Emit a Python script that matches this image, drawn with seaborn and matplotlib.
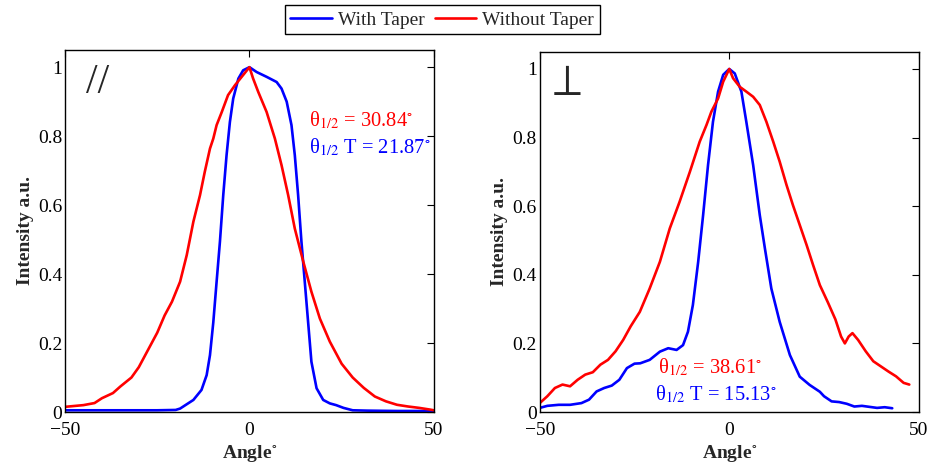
import matplotlib
matplotlib.use('Agg')
import matplotlib.pyplot as plt
import numpy as np
import pandas as pd
import seaborn as sns

# parallel (//) polarisation
par_angle_taper = [-50, -40, -30, -25, -20, -18.8, -15.2, -13.0, -11.6, -10.7, -9.8, -8.9, -8.0, -7.1, -6.2,
                   -5.3, -4.4, -3.0, -1.7, 0, 1.95, 4.66, 7.37, 8.7, 10.1, 11.4, 12.3, 13.2, 14.1, 15.0, 15.9,
                   16.8, 18.2, 20.0, 21.8, 23.5, 25.5, 28, 32, 40, 50]
par_taper = [0.005, 0.005, 0.005, 0.005, 0.006, 0.01, 0.035, 0.064, 0.107, 0.165, 0.26, 0.378, 0.494, 0.629,
             0.745, 0.841, 0.909, 0.967, 0.991, 1.0, 0.986, 0.972, 0.957, 0.938, 0.90, 0.832, 0.745, 0.629,
             0.494, 0.378, 0.262, 0.146, 0.069, 0.035, 0.025, 0.02, 0.012, 0.005, 0.004, 0.003, 0.003]
par_angle_plain = [-50, -45, -42, -40, -37, -35, -32, -30, -28, -25, -23, -21, -18.8, -17, -15.2, -13.4, -12.1,
                   -10.7, -9.8, -8.9, -7.5, -5.8, -3.9, -2.1, 0, 1.0, 2.4, 4.66, 6.9, 8.7, 10.5, 12.3, 14.6,
                   16.8, 19.1, 21.8, 23.5, 25, 28, 31, 34, 37, 40, 43, 46, 49, 50]
par_plain = [0.015, 0.02, 0.026, 0.04, 0.055, 0.074, 0.10, 0.13, 0.17, 0.23, 0.28, 0.32, 0.378, 0.455, 0.552,
             0.629, 0.697, 0.764, 0.793, 0.832, 0.87, 0.919, 0.948, 0.972, 1.0, 0.967, 0.928, 0.87, 0.793,
             0.716, 0.629, 0.532, 0.436, 0.349, 0.271, 0.204, 0.17, 0.14, 0.10, 0.07, 0.045, 0.031, 0.021,
             0.016, 0.012, 0.007, 0.005]

# perpendicular polarisation
perp_angle_taper = [-50, -48, -45, -42, -39, -37, -35, -33, -31, -29, -27, -25, -23.5, -21.0, -18.3, -16.1,
                    -13.9, -12.2, -10.9, -9.6, -8.2, -6.9, -5.6, -4.3, -2.95, -1.6, 0, 1.45, 3.2, 4.5, 6.3,
                    8.05, 9.4, 11.1, 13.3, 16.0, 18.6, 21.2, 23.9, 25, 27, 29, 31, 33, 35, 37, 39, 41, 43]
perp_taper = [0.012, 0.018, 0.021, 0.021, 0.026, 0.036, 0.06, 0.07, 0.077, 0.094, 0.128, 0.141, 0.142, 0.152,
              0.176, 0.186, 0.181, 0.195, 0.234, 0.312, 0.438, 0.574, 0.72, 0.846, 0.934, 0.983, 1.0, 0.987,
              0.934, 0.846, 0.72, 0.574, 0.477, 0.36, 0.263, 0.166, 0.103, 0.079, 0.059, 0.046, 0.031, 0.029,
              0.024, 0.016, 0.018, 0.015, 0.012, 0.014, 0.011]
perp_angle_plain = [-50, -48, -46, -44, -42, -40, -38, -36, -34, -32, -30, -28, -26, -23.6, -21.0, -18.3, -15.7,
                    -13.1, -10.4, -7.8, -6.0, -4.7, -2.95, -1.6, 0, 1.0, 2.77, 4.5, 6.3, 8.05, 9.8, 11.6, 13.3,
                    15.1, 16.8, 18.6, 20.4, 22.1, 23.9, 26, 28, 29.5, 30.5, 31.5, 32.5, 34, 36, 38, 40, 42, 44,
                    46, 47.5]
perp_plain = [0.026, 0.046, 0.07, 0.08, 0.075, 0.094, 0.109, 0.116, 0.138, 0.152, 0.177, 0.21, 0.25, 0.292,
              0.36, 0.438, 0.535, 0.613, 0.70, 0.788, 0.837, 0.876, 0.914, 0.963, 1.0, 0.973, 0.948, 0.934,
              0.919, 0.895, 0.846, 0.788, 0.73, 0.662, 0.603, 0.545, 0.487, 0.429, 0.37, 0.32, 0.27, 0.22,
              0.20, 0.22, 0.23, 0.21, 0.177, 0.148, 0.133, 0.118, 0.104, 0.085, 0.08]

series_names = ["With Taper", "Without Taper"]
colors = {"With Taper": "#0000ff", "Without Taper": "#ff0000"}


def make_df(a1, y1, a2, y2):
    d1 = pd.DataFrame({"angle": a1, "intensity": y1, "series": series_names[0]})
    d2 = pd.DataFrame({"angle": a2, "intensity": y2, "series": series_names[1]})
    return pd.concat([d1, d2], ignore_index=True)


sns.set_theme(style="white")
plt.rcParams['font.family'] = ['Liberation Serif', 'DejaVu Serif']
plt.rcParams['mathtext.fontset'] = 'stix'

fig = plt.figure(figsize=(9.29, 4.69), dpi=100)
ax1 = fig.add_axes([0.070, 0.1215, 0.397, 0.772])
ax2 = fig.add_axes([0.581, 0.1215, 0.408, 0.768])

panels = [
    (ax1, make_df(par_angle_taper, par_taper, par_angle_plain, par_plain)),
    (ax2, make_df(perp_angle_taper, perp_taper, perp_angle_plain, perp_plain)),
]

for ax, df in panels:
    sns.lineplot(data=df, x="angle", y="intensity", hue="series", palette=colors,
                 linewidth=1.9, sort=False, ax=ax, legend=False)
    ax.set_xlim(-50, 50)
    ax.set_ylim(0, 1.05)
    ax.set_xticks([-50, 0, 50])
    ax.set_yticks([0, 0.2, 0.4, 0.6, 0.8, 1.0])
    ax.set_yticklabels(["0", "0.2", "0.4", "0.6", "0.8", "1"])
    ax.tick_params(direction='in', top=True, right=True, length=5, width=0.8,
                   labelsize=14, colors='black')
    ax.tick_params(axis='x', pad=7)
    ax.tick_params(axis='y', pad=2)
    for s in ax.spines.values():
        s.set_color('black')
        s.set_linewidth(1.0)
    ax.set_xlabel(r"Angle$^{\circ}$", fontsize=14, fontweight='bold', labelpad=3)
    ax.set_ylabel("Intensity a.u.", fontsize=14, fontweight='bold', labelpad=3)

# annotations
ax1.text(-41.2, 0.954, "//", fontsize=30, ha='center', va='center')
ax1.text(16.1, 0.829, r"θ$_{1/2}$ = 30.84$^{\circ}$", color='#ff0000', fontsize=14.8, va='baseline')
ax1.text(16.1, 0.751, r"θ$_{1/2}$ T = 21.87$^{\circ}$", color='#0000ff', fontsize=14.8, va='baseline')

ax2.text(-43.8, 0.955, r"$\perp$", fontsize=32, ha='center', va='center')
ax2.text(-18.9, 0.114, r"θ$_{1/2}$ = 38.61$^{\circ}$", color='#ff0000', fontsize=14.8, va='baseline')
ax2.text(-19.7, 0.035, r"θ$_{1/2}$ T = 15.13$^{\circ}$", color='#0000ff', fontsize=14.8, va='baseline')

handles = [plt.Line2D([], [], color=colors[n], linewidth=1.9) for n in series_names]
leg = fig.legend(handles, series_names, loc='upper center', bbox_to_anchor=(0.476, 0.989),
                 ncol=2, fontsize=14, frameon=True, fancybox=False, framealpha=1,
                 edgecolor='black', borderpad=0.3, handlelength=2.15, columnspacing=0.5,
                 handletextpad=0.3, borderaxespad=0)
leg.get_frame().set_linewidth(1.0)

fig.savefig("out.png", dpi=100, facecolor='white')
